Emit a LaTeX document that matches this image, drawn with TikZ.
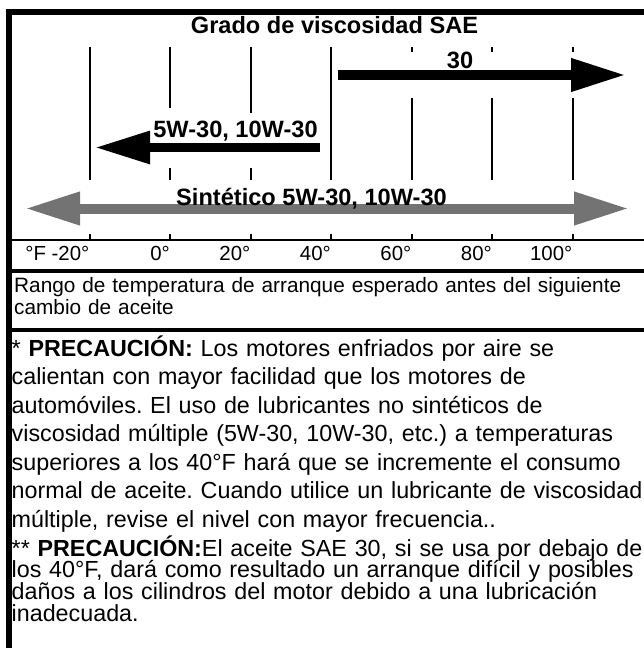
\documentclass[tikz,border=0pt]{standalone}
\usepackage{fontspec}
\setmainfont{Liberation Sans}
\usetikzlibrary{arrows.meta}
\frenchspacing

\begin{document}
\begin{tikzpicture}[x=1pt,y=-1pt,
    frame/.style={line width=5.5pt},
    rule/.style={line width=3.5pt},
    grid/.style={line width=2pt},
    oil/.style={line width=10pt,-{Triangle[length=55pt,width=31pt]}},
    synth/.style={line width=10pt,draw=black!55,
        {Triangle[length=55pt,width=31pt]}-{Triangle[length=55pt,width=31pt]}},
    grade/.style={font=\bfseries\fontsize{23.6}{28}\selectfont,inner sep=0pt,anchor=base},
    temp/.style={font=\fontsize{20.4}{24}\selectfont,inner sep=0pt,anchor=base east},
    note/.style={inner sep=0pt,anchor=base west,text width=720pt,align=left}
]
\useasboundingbox (0,0) rectangle (644,648);

% frame and rules
\draw[frame] (644,12) -- (9,12) -- (9,648);
\draw[grid] (9,240) -- (644,240);
\draw[rule] (9,271) -- (644,271);
\draw[rule] (9,330) -- (644,330);

% degree lines, broken where the arrows pass
\foreach \x in {89.5,331} \draw[grid] (\x,47) -- (\x,180);
\draw[grid] (170,47) -- (170,108) (170,168) -- (170,180);
\draw[grid] (250.5,47) -- (250.5,113) (250.5,168) -- (250.5,180);
\foreach \x in {411.5,492,572.5} \draw[grid] (\x,47) -- (\x,52) (\x,98) -- (\x,180);

% scale
\foreach \x/\t [count=\i] in {89.5/{°F -20°},170/0°,250.5/20°,331/40°,411.5/60°,492/80°,572.5/100°}{
    \draw[grid] (\x,234) -- (\x,240);
    \node[temp] (deg\i) at (\x,260) {\t};
}

\node[grade] (title) at (334.5,33) {Grado de viscosidad SAE};

% SAE 30
\coordinate (s30) at (338,75);
\coordinate (e30) at (626,75);
\draw[oil] (s30) -- (e30);
\node[grade] (lab30) at (460,68) {30};

% 5W-30, 10W-30
\coordinate (s5w) at (319.5,147.5);
\coordinate (e5w) at (95,147.5);
\draw[oil,line width=9pt] (s5w) -- (e5w);
\node[grade] (lab5w) at (235.5,137) {5W-30, 10W-30};

% synthetic
\coordinate (lsyn) at (25,208.5);
\coordinate (rsyn) at (629,208.5);
\draw[synth] (lsyn) -- (rsyn);
\node[grade] (labsyn) at (311.5,205) {Sintético 5W-30, 10W-30};

% notes
\node[note,font=\fontsize{20.8}{22}\selectfont] (range) at (14,292)
    {Rango de temperatura de arranque esperado antes del siguiente\\
     cambio de aceite};
\node[note,font=\fontsize{23.3}{28.5}\selectfont] (warn1) at (11.5,356)
    {* \textbf{PRECAUCIÓN:} Los motores enfriados por aire se\\
     calientan con mayor facilidad que los motores de\\
     automóviles. El uso de lubricantes no sintéticos de\\
     viscosidad múltiple (5W-30, 10W-30, etc.) a temperaturas\\
     superiores a los 40°F hará que se incremente el consumo\\
     normal de aceite. Cuando utilice un lubricante de viscosidad\\
     múltiple, revise el nivel con mayor frecuencia..};
\node[note,font=\fontsize{23.3}{21.7}\selectfont] (warn2) at (11.5,556)
    {\lineskiplimit=-100pt\relax
     ** \textbf{PRECAUCIÓN:}El aceite SAE 30, si se usa por debajo de\\
     los 40°F, dará como resultado un arranque difícil y posibles\\
     daños a los cilindros del motor debido a una lubricación\\
     inadecuada.};
\end{tikzpicture}
\end{document}
